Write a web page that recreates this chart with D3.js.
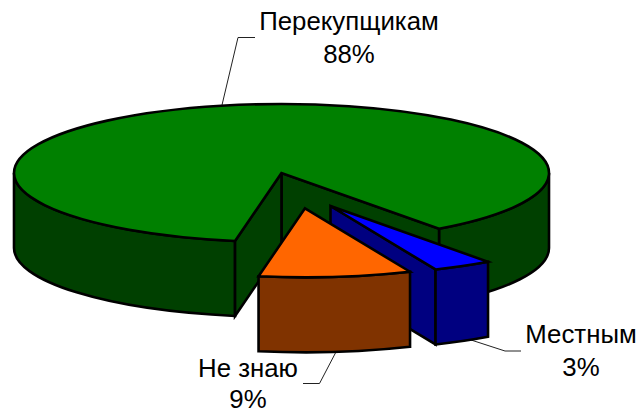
<!DOCTYPE html>
<html>
<head>
<meta charset="utf-8">
<script src="https://d3js.org/d3.v7.min.js"></script>
<style>
  html, body { margin: 0; padding: 0; background: #fff; }
  text { font-family: "Liberation Sans", Arial, sans-serif; font-size: 25.8px; fill: #000; text-anchor: middle; }
</style>
</head>
<body>
<svg id="chart" width="641" height="410"></svg>
<script>
const categories = ['Перекупщикам', 'Местным', 'Не знаю'];
const percentLabels = ['88%', '3%', '9%'];
// slice sizes as drawn in the picture, the 3D view pulls them a bit away from the printed labels
const sliceShares = [87.2, 3.6, 9.2];
const topColors = ['#008000', '#0000ff', '#ff6600'];
const sideColors = ['#004000', '#000080', '#803300'];

const svg = d3.select('#chart');
const cx = 281.5, cy = 173, rx = 267.5, ry = 69, depth = 75;
const rad = d => d * Math.PI / 180;

const x = d3.scaleLinear().domain([-1, 1]).range([-rx, rx]);
const y = d3.scaleLinear().domain([-1, 1]).range([-ry, ry]);

const slices = d3.pie().sort(null).startAngle(rad(190)).endAngle(rad(550))(sliceShares);

// how far each slice is pulled out of the pie
const offsets = [[0, 0], [49, 33], [23.5, 35.3]];
slices.forEach((s, i) => { s.ox = cx + offsets[i][0]; s.oy = cy + offsets[i][1]; });

function rim(s, a, drop) {
    return [s.ox + x(Math.sin(a)), s.oy + y(-Math.cos(a)) + (drop || 0)];
}
function arcTo(p, large, sweep) {
    return `A${rx},${ry} 0 ${large} ${sweep} ${p[0]},${p[1]}`;
}
function topPath(s) {
    const a = rim(s, s.startAngle), b = rim(s, s.endAngle);
    const large = s.endAngle - s.startAngle > Math.PI ? 1 : 0;
    return `M${s.ox},${s.oy}L${a[0]},${a[1]}${arcTo(b, large, 1)}Z`;
}
function outerWall(s, a0, a1) {
    const p0 = rim(s, a0), p1 = rim(s, a1), q1 = rim(s, a1, depth), q0 = rim(s, a0, depth);
    return `M${p0[0]},${p0[1]}${arcTo(p1, 0, 1)}L${q1[0]},${q1[1]}${arcTo(q0, 0, 0)}Z`;
}
function cutWall(s, a) {
    const p = rim(s, a), q = rim(s, a, depth);
    return `M${s.ox},${s.oy}L${p[0]},${p[1]}L${q[0]},${q[1]}L${s.ox},${s.oy + depth}Z`;
}
function face(d, color) {
    svg.append('path').attr('d', d).attr('fill', color)
        .attr('stroke', '#000').attr('stroke-width', 2.6).attr('stroke-linejoin', 'miter');
}

const [big, local, unknown] = slices;

// leader lines go first, the slices sit on top of their ends
function leader(points) {
    svg.append('path').attr('d', d3.line()(points)).attr('fill', 'none').attr('stroke', '#222').attr('stroke-width', 1);
}
leader([[222, 105], [238, 37.5], [255, 37.5]]);
leader([[468, 339], [505, 351], [521, 351]]);
leader([[337, 350], [319.5, 383.5], [303, 383.5]]);

// big slice: outer wall either side of the gap, then the two cut faces, then the lid
face(outerWall(big, big.startAngle, rad(270)), sideColors[0]);
face(outerWall(big, rad(90), big.endAngle - Math.PI * 2), sideColors[0]);
face(cutWall(big, big.endAngle), sideColors[0]);
face(cutWall(big, big.startAngle), sideColors[0]);
face(topPath(big), topColors[0]);

// blue slice
face(cutWall(local, local.endAngle), sideColors[1]);
face(outerWall(local, local.startAngle, local.endAngle), sideColors[1]);
face(topPath(local), topColors[1]);

// orange slice
face(outerWall(unknown, unknown.startAngle, unknown.endAngle), sideColors[2]);
face(topPath(unknown), topColors[2]);

// labels
const labelPos = [[349, 30, 63], [581, 343, 376], [248, 377, 408]];
categories.forEach((c, i) => {
    const p = labelPos[i];
    svg.append('text').attr('x', p[0]).attr('y', p[1]).text(c);
    svg.append('text').attr('x', p[0]).attr('y', p[2]).text(percentLabels[i]);
});
</script>
</body>
</html>
